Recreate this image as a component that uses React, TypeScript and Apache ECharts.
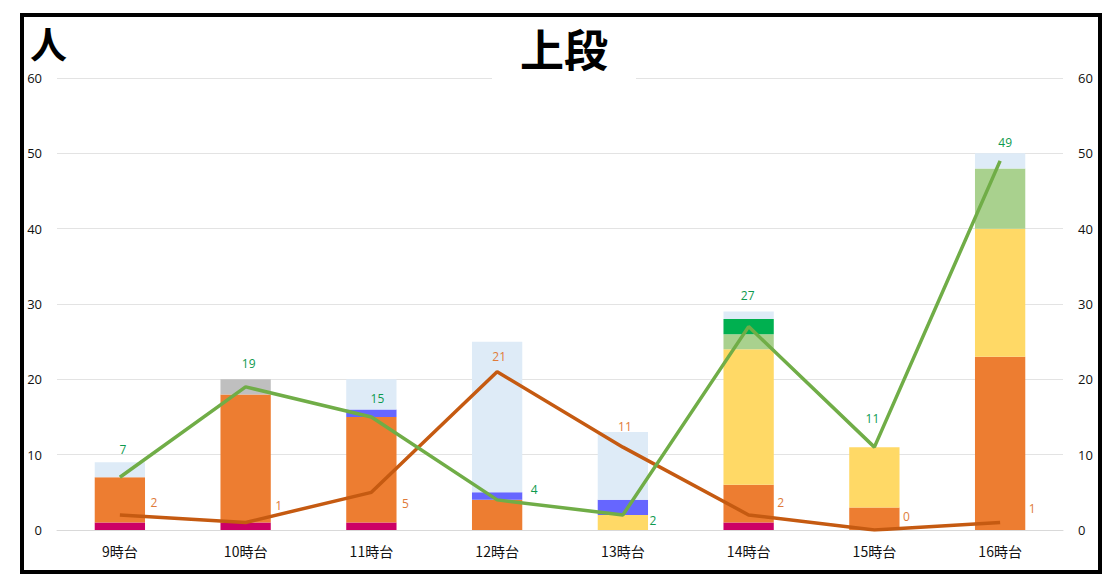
import React, { useEffect, useRef } from "react";
import * as echarts from "echarts";

const categories = ["9時台", "10時台", "11時台", "12時台", "13時台", "14時台", "15時台", "16時台"];
const yTicks = [0, 10, 20, 30, 40, 50, 60];

// stacked bar segments (bottom to top)
const magentaVals = [1, 1, 1, 0, 0, 1, 0, 0];
const orangeVals = [6, 17, 14, 4, 0, 5, 3, 23];
const yellowVals = [0, 0, 0, 0, 2, 18, 8, 17];
const blueVals = [0, 0, 1, 1, 2, 0, 0, 0];
const lightGreenVals = [0, 0, 0, 0, 0, 2, 0, 8];
const darkGreenVals = [0, 0, 0, 0, 0, 2, 0, 0];
const grayVals = [0, 2, 0, 0, 0, 0, 0, 0];
const lightBlueVals = [2, 0, 4, 20, 9, 1, 0, 2];

// lines
const greenLine = [7, 19, 15, 4, 2, 27, 11, 49];
const orangeLine = [2, 1, 5, 21, 11, 2, 0, 1];

// label offsets (style only)
const greenLabelOffsets = [[3, -28], [3, -23], [6, -19], [37, -10], [30, 6], [-1, -31], [-2, -29], [5, -18]];
const orangeLabelOffsets = [[34, -12], [33, -17], [34, 11], [2, -15], [2, -21], [32, -12], [32, -14], [32, -14]];

const FONT = "'Noto Sans CJK JP', 'Noto Sans', sans-serif";
const NUMFONT = "'Open Sans', 'Noto Sans', sans-serif";

export default function App() {
  const ref = useRef<HTMLDivElement>(null);
  useEffect(() => {
    if (!ref.current) return;
    const chart = echarts.init(ref.current, undefined, { renderer: "svg" });

    const barSeries = (name: string, data: number[], color: string) => ({
      name,
      type: "bar",
      stack: "total",
      barWidth: "40%",
      data: data.map((v) => (v === 0 ? "-" : v)),
      itemStyle: { color },
      emphasis: { disabled: true },
    });

    const lineData = (vals: number[], offsets: number[][]) =>
      vals.map((v, i) => ({ value: v, label: { offset: offsets[i] } }));

    chart.setOption({
      animation: false,
      backgroundColor: "#fff",
      textStyle: { fontFamily: FONT },
      title: {
        text: "上段",
        left: 492,
        top: 24,
        backgroundColor: "#fff",
        padding: [2, 28, 12, 28],
        textStyle: { fontSize: 44, fontWeight: "bold", color: "#000", fontFamily: FONT, lineHeight: 44 },
      },
      graphic: [
        {
          type: "rect",
          shape: { x: 22, y: 15, width: 1078, height: 557 },
          style: { fill: "none", stroke: "#000", lineWidth: 4 },
          z: 100,
        },
        {
          type: "text",
          x: 30,
          y: 24,
          style: { text: "人", font: `bold 37px ${FONT}`, fill: "#000" },
          z: 100,
        },
      ],
      grid: { left: 57, right: 50, top: 78, bottom: 55 },
      xAxis: {
        type: "category",
        data: categories,
        axisTick: { show: false },
        axisLine: { lineStyle: { color: "#D9D9D9" } },
        axisLabel: { color: "#111", fontSize: 14, margin: 14, fontFamily: FONT },
      },
      yAxis: [
        {
          type: "value",
          min: yTicks[0],
          max: yTicks[yTicks.length - 1],
          interval: 10,
          axisLabel: { color: "#111", fontSize: 13, margin: 15, fontFamily: NUMFONT },
          splitLine: { lineStyle: { color: "#E3E3E3" } },
          axisLine: { show: false },
          axisTick: { show: false },
        },
        {
          type: "value",
          min: yTicks[0],
          max: yTicks[yTicks.length - 1],
          interval: 10,
          position: "right",
          axisLabel: { color: "#111", fontSize: 13, margin: 15, fontFamily: NUMFONT },
          splitLine: { show: false },
          axisLine: { show: false },
          axisTick: { show: false },
        },
      ],
      series: [
        barSeries("a", magentaVals, "#CC0066"),
        barSeries("b", orangeVals, "#ED7D31"),
        barSeries("c", yellowVals, "#FFD966"),
        barSeries("d", blueVals, "#6666FF"),
        barSeries("e", lightGreenVals, "#A9D18E"),
        barSeries("f", darkGreenVals, "#00B050"),
        barSeries("g", grayVals, "#BFBFBF"),
        barSeries("h", lightBlueVals, "#DEEBF7"),
        {
          name: "green",
          type: "line",
          data: lineData(greenLine, greenLabelOffsets),
          symbol: "circle",
          symbolSize: 0,
          showSymbol: true,
          lineStyle: { color: "#70AD47", width: 3.5 },
          itemStyle: { color: "#70AD47" },
          label: {
            show: true,
            position: "inside",
            color: "#0E9A4E",
            fontSize: 12,
            fontFamily: NUMFONT,
          },
          z: 5,
        },
        {
          name: "orangeLine",
          type: "line",
          data: lineData(orangeLine, orangeLabelOffsets),
          symbol: "circle",
          symbolSize: 0,
          showSymbol: true,
          lineStyle: { color: "#C55A11", width: 3.5 },
          itemStyle: { color: "#C55A11" },
          label: {
            show: true,
            position: "inside",
            color: "#E07B39",
            fontSize: 12,
            fontFamily: NUMFONT,
          },
          z: 4,
        },
      ],
    });
    return () => chart.dispose();
  }, []);
  return (
    <div
      ref={ref}
      style={{ position: "absolute", left: 0, top: 0, width: 1113, height: 585 }}
    />
  );
}
